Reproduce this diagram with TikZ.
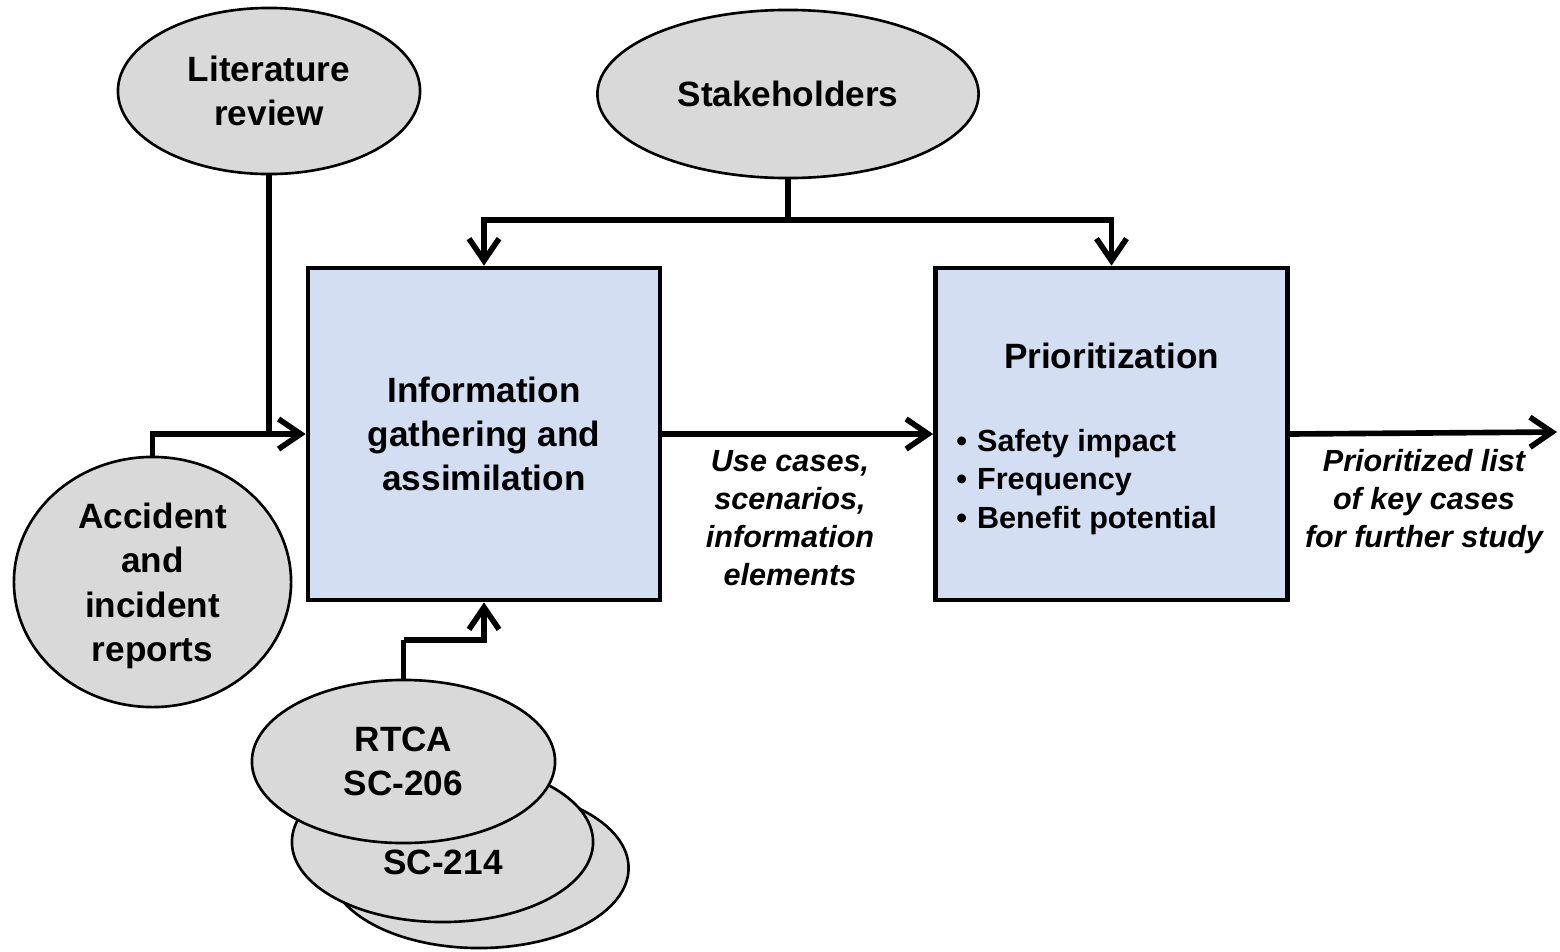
\documentclass[tikz,border=0pt]{standalone}
\usepackage{fontspec}
\setmainfont{Liberation Sans}
\usetikzlibrary{shapes.geometric,arrows.meta}
\definecolor{boxfill}{RGB}{211,222,243}
\definecolor{ellfill}{RGB}{217,217,217}
\newcommand{\bul}{\textbullet\hspace{0.1cm}}
\begin{document}
\begin{tikzpicture}[x=0.01cm,y=-0.01cm,
  src/.style={ellipse,draw=black,line width=0.75pt,fill=ellfill,inner sep=0pt,align=center,
    font=\fontsize{10}{12.4}\selectfont\bfseries},
  proc/.style={rectangle,draw=black,line width=1.3pt,fill=boxfill,inner sep=0pt,
    minimum width=3.52cm,minimum height=3.32cm},
  conn/.style={line width=1.6pt},
  arr/.style={conn,-{Straight Barb[length=2.2mm,width=3mm]}},
  lab/.style={align=center,font=\fontsize{8.7}{10.8}\selectfont\bfseries\itshape},
]
\useasboundingbox (0,0) rectangle (1560,951);
% ellipses
\node[src,minimum width=3.02cm,minimum height=1.66cm] (lit) at (269,91) {Literature\\review};
\node[src,minimum width=3.81cm,minimum height=1.68cm] (stk) at (788,94) {Stakeholders};
\node[src,minimum width=2.77cm,minimum height=2.50cm] (acc) at (152.5,582) {};
\node[align=center,font=\fontsize{10}{12.6}\selectfont\bfseries] (acct) at (152.5,586) {Accident\\and\\incident\\reports};
\node[src,minimum width=2.99cm,minimum height=1.60cm] (rb) at (479,868) {};
\node[src,minimum width=3.01cm,minimum height=1.60cm] (rm) at (442.5,842) {};
\node[src,minimum width=3.03cm,minimum height=1.63cm] (rtca) at (403.5,761.5) {RTCA\\SC-206};
\node[font=\fontsize{10}{12.4}\selectfont\bfseries] (sc) at (443,862) {SC-214};
% boxes
\node[proc] (info) at (484,434) {};
\node[align=center,font=\fontsize{10}{12.5}\selectfont\bfseries] (infot) at (484,434) {Information\\gathering and\\assimilation};
\node[proc] (prio) at (1111.5,434) {};
\node[font=\fontsize{10}{12.4}\selectfont\bfseries] (priot) at (1111.5,356) {Prioritization};
\node[anchor=west,align=left,font=\fontsize{8.7}{10.9}\selectfont\bfseries] (bullets) at (944,482)
  {\bul Safety impact\\\bul Frequency\\\bul Benefit potential};
% connectors
\coordinate (sj) at (788,220);
\coordinate (rj) at (405,640);
\coordinate (out) at (1557,432);
\draw[arr] (lit.south) |- (info.west);
\draw[conn] (acc.north) |- (lit.south |- info.west);
\draw[arr] (stk.south) -- (sj) -| (info.north);
\draw[arr] (sj) -| (prio.north);
\draw[arr] (rtca.north |- rj) -- (rj) -| (info.south);
\draw[conn] (rtca.north) -- (rtca.north |- rj);
\draw[arr] (info.east) -- (prio.west);
\draw[arr] (prio.east) -- (out);
% labels
\node[lab] (l1) at (790,518) {Use cases,\\scenarios,\\information\\elements};
\node[lab] (l2) at (1424,502) {Prioritized list\\of key cases\\for further study};
\end{tikzpicture}
\end{document}
